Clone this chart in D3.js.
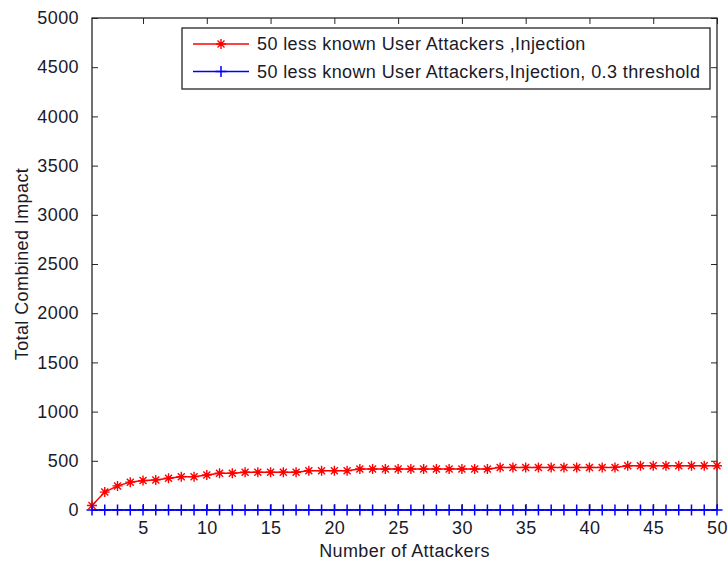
<!DOCTYPE html>
<html>
<head>
<meta charset="utf-8">
<script src="https://cdn.jsdelivr.net/npm/d3@7"></script>
<style>
  body { margin: 0; background: #fff; }
  text { font-family: "Liberation Sans", Arial, sans-serif; fill: #1a1a2a; letter-spacing: 0.4px; }
</style>
</head>
<body>
<svg id="grafica"></svg>
<script>
// datos
const atacantes = d3.range(1, 51);
const impactoInyeccion = [
  45, 182, 245, 283, 299, 306, 323, 339, 339, 356,
  373, 373, 383, 383, 383, 383, 383, 400, 400, 400,
  400, 416, 416, 416, 416, 416, 416, 416, 416, 416,
  416, 416, 433, 433, 433, 433, 433, 433, 433, 433,
  433, 433, 450, 450, 450, 450, 450, 450, 450, 450
];
const impactoUmbral = atacantes.map(() => 0);
const ticksX = [5, 10, 15, 20, 25, 30, 35, 40, 45, 50];
const ticksY = [0, 500, 1000, 1500, 2000, 2500, 3000, 3500, 4000, 4500, 5000];
const leyenda = [
  "50 less known User Attackers ,Injection",
  "50 less known User Attackers,Injection, 0.3 threshold"
];

const width = 728, height = 563;
const m = { left: 92, right: 11, top: 18, bottom: 53 };

const svg = d3.select("#grafica").attr("width", width).attr("height", height);

const x = d3.scaleLinear().domain([1, 50]).range([m.left, width - m.right]);
const y = d3.scaleLinear().domain([0, 5000]).range([height - m.bottom, m.top]);

const fs = "18px";

// ejes con ticks hacia dentro
function estilo(g) {
  g.select(".domain").remove();
  g.selectAll(".tick line").attr("stroke", "#262626");
  g.selectAll(".tick text").style("font-size", fs);
}

svg.append("g")
  .attr("transform", `translate(0,${y(0)})`)
  .call(d3.axisBottom(x).tickValues(ticksX).tickSize(-6).tickPadding(11).tickFormat(d3.format("d")))
  .call(estilo);

svg.append("g")
  .attr("transform", `translate(0,${y(5000)})`)
  .call(d3.axisTop(x).tickValues(ticksX).tickSize(-6).tickFormat(""))
  .call(estilo);

svg.append("g")
  .attr("transform", `translate(${x(1)},0)`)
  .call(d3.axisLeft(y).tickValues(ticksY).tickSize(-6).tickPadding(13).tickFormat(d3.format("d")))
  .call(estilo);

svg.append("g")
  .attr("transform", `translate(${x(50)},0)`)
  .call(d3.axisRight(y).tickValues(ticksY).tickSize(-6).tickFormat(""))
  .call(estilo);

// marco
svg.append("rect")
  .attr("x", x(1)).attr("y", y(5000))
  .attr("width", x(50) - x(1)).attr("height", y(0) - y(5000))
  .attr("fill", "none").attr("stroke", "#262626").attr("stroke-width", 1.3);

const linea = d3.line().x((d, i) => x(atacantes[i])).y(d => y(d));

function asterisco(g, cx, cy, r) {
  const p = `M${cx - r},${cy}H${cx + r}M${cx},${cy - r}V${cy + r}` +
    `M${cx - r * 0.7},${cy - r * 0.7}L${cx + r * 0.7},${cy + r * 0.7}` +
    `M${cx - r * 0.7},${cy + r * 0.7}L${cx + r * 0.7},${cy - r * 0.7}`;
  g.append("path").attr("d", p).attr("stroke", "#ff0000").attr("stroke-width", 1.4).attr("fill", "none");
  g.append("circle").attr("cx", cx).attr("cy", cy).attr("r", 2).attr("fill", "#ff0000");
}
function cruz(g, cx, cy, r) {
  g.append("path").attr("d", `M${cx - r},${cy}H${cx + r}M${cx},${cy - r}V${cy + r}`)
    .attr("stroke", "#0000ff").attr("stroke-width", 1.5).attr("fill", "none");
}

// serie roja
svg.append("path").datum(impactoInyeccion).attr("d", linea)
  .attr("fill", "none").attr("stroke", "#ff0000").attr("stroke-width", 1.5);
const gRojo = svg.append("g");
impactoInyeccion.forEach((d, i) => asterisco(gRojo, x(atacantes[i]), y(d), 5));

// serie azul
svg.append("path").datum(impactoUmbral).attr("d", linea)
  .attr("fill", "none").attr("stroke", "#0000ff").attr("stroke-width", 1.5);
const gAzul = svg.append("g");
impactoUmbral.forEach((d, i) => cruz(gAzul, x(atacantes[i]), y(d), 5.5));

// etiquetas
svg.append("text")
  .attr("x", (x(1) + x(50)) / 2).attr("y", 557)
  .attr("text-anchor", "middle").style("font-size", fs)
  .text("Number of Attackers");

svg.append("text")
  .attr("transform", `translate(28,${(y(0) + y(5000)) / 2}) rotate(-90)`)
  .attr("text-anchor", "middle").style("font-size", fs)
  .text("Total Combined Impact");

// leyenda
const lg = svg.append("g");
lg.append("rect").attr("x", 182).attr("y", 28).attr("width", 528).attr("height", 61)
  .attr("fill", "#fff").attr("stroke", "#262626").attr("stroke-width", 1.3);
const filas = [44, 71.5];
lg.append("line").attr("x1", 193).attr("x2", 249).attr("y1", filas[0]).attr("y2", filas[0])
  .attr("stroke", "#ff0000").attr("stroke-width", 1.5);
asterisco(lg, 221, filas[0], 5);
lg.append("line").attr("x1", 193).attr("x2", 249).attr("y1", filas[1]).attr("y2", filas[1])
  .attr("stroke", "#0000ff").attr("stroke-width", 1.5);
cruz(lg, 221, filas[1], 5.5);
leyenda.forEach((t, i) => {
  lg.append("text").attr("x", 257).attr("y", filas[i]).attr("dy", "0.36em")
    .style("font-size", fs).text(t);
});
</script>
</body>
</html>
